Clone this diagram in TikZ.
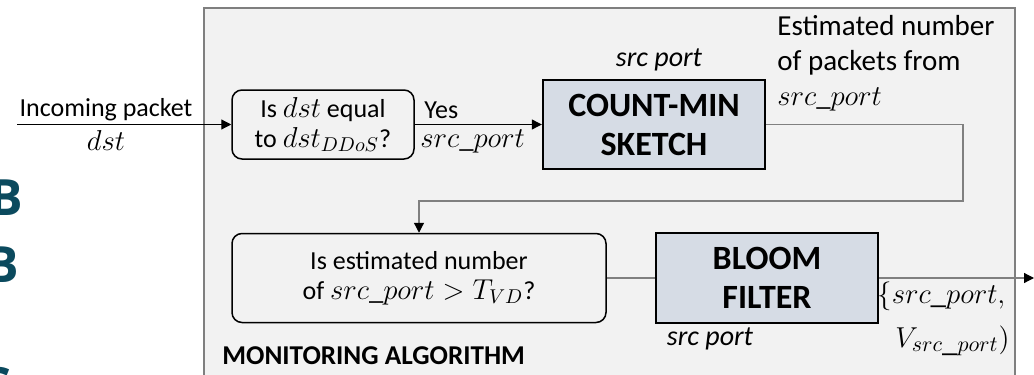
\documentclass[tikz,border=0pt]{standalone}
\usepackage{fontspec}
\setmainfont{Carlito}
\newfontfamily\osb{Open Sans}
\usetikzlibrary{arrows.meta}
\definecolor{bgray}{HTML}{F2F2F2}
\definecolor{bord}{HTML}{7F7F7F}
\definecolor{boxfill}{HTML}{D6DCE5}
\definecolor{deepteal}{HTML}{0B4A5E}
\definecolor{lgray}{HTML}{808080}
\newcommand{\mth}[1]{{\fontsize{14.3}{15}\selectfont$#1$}}
\begin{document}
\begin{tikzpicture}[x=0.5pt,y=-0.5pt,
  txt/.style={font=\fontsize{13}{15}\selectfont, inner sep=0pt, align=center},
  dec/.style={draw=black, line width=0.75pt, rounded corners=5pt, inner sep=0pt, align=center, font=\fontsize{13}{15}\selectfont},
  blk/.style={draw=black, fill=boxfill, line width=1.2pt, inner sep=0pt, align=center, font=\fontsize{17}{19.5}\selectfont\bfseries},
  tip/.style={-{Triangle[length=5pt,width=5pt,color=black]}},
  conn/.style={tip, draw=black, line width=0.6pt},
  gconn/.style={draw=lgray, line width=0.6pt},
  bigletter/.style={font=\osb\fontsize{25}{25}\selectfont\bfseries, text=deepteal, inner sep=0pt, anchor=east}
]
\useasboundingbox (0,0) rectangle (1034,375);
\begin{scope}
\clip (0,0) rectangle (1034,375);
\fill[bgray] (204,8) rectangle (1015,390);
\draw[bord, line width=1pt] (204,390) -- (204,8) -- (1015,8) -- (1015,390);
\node[bigletter] (b1) at (23,198) {B};
\node[bigletter] (b2) at (19,265) {B};
\node[bigletter] (b3) at (12,386) {C};
\end{scope}

% nodes
\node[dec, minimum width=91pt, minimum height=34.5pt] (q1) at (323,124.5) {Is \mth{dst} equal\\to \mth{dst_{DDoS}}?};
\node[blk, minimum width=111pt, minimum height=44.5pt] (cms) at (654,124.5) {COUNT-MIN\\SKETCH};
\node[dec, minimum width=187pt, minimum height=44.5pt] (q2) at (419,278) {Is estimated number\\of \mth{src\_port > T_{VD}}?};
\node[blk, minimum width=111pt, minimum height=45pt] (bf) at (767,278) {BLOOM\\FILTER};

% labels
\node[txt] (lin) at (106,110) {Incoming packet};
\node[txt] (ldst) at (106,140) {\mth{dst}};
\node[txt, anchor=west] (lyes) at (424,110) {Yes};
\node[txt, anchor=west] (lsp1) at (420,141) {\mth{src\_port}};
\node[txt, font=\fontsize{14}{15}\selectfont\itshape] (lsp2) at (659,60) {src port};
\node[txt, anchor=west, align=left, font=\fontsize{14.5}{17.5}\selectfont] (lest) at (777,63) {Estimated number\\of packets from\\\mth{src\_port}};
\node[txt, font=\fontsize{14}{15}\selectfont\itshape] (lsp3) at (710,339) {src port};
\node[txt, anchor=west, align=left, font=\fontsize{15.5}{22}\selectfont] (lset) at (877,319) {$\{src\_port,$\\[0pt]\hspace*{9pt}$V_{src\_port})$};
\node[txt, anchor=west, font=\fontsize{13.6}{16}\selectfont\bfseries] (lmon) at (222,356) {MONITORING ALGORITHM};

% connectors
\coordinate (in) at (17,124.5);
\coordinate (turn) at (963,201);
\coordinate (out) at (1034,278);
\draw[conn] (in) -- (q1.west);
\draw[conn] (q1.east) -- (cms.west);
\draw[gconn, tip] (cms.east) -| (turn) -| (q2.north);
\draw[gconn] (q2.east) -- (bf.west);
\draw[gconn, tip] (bf.east) -- (out);
\end{tikzpicture}
\end{document}
